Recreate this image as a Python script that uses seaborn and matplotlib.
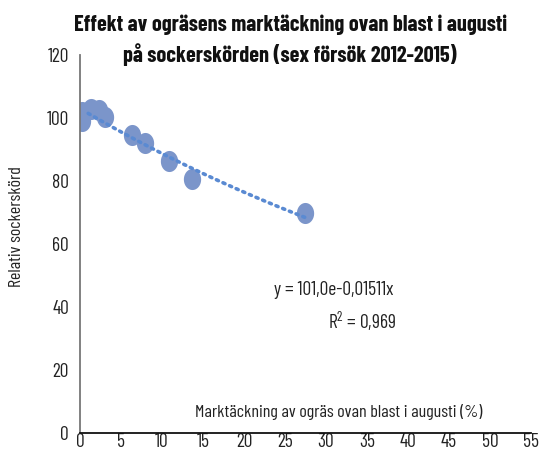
import numpy as np
import pandas as pd
import matplotlib
matplotlib.use("Agg")
import matplotlib.pyplot as plt
from matplotlib.path import Path
import seaborn as sns

# Data
cover = [0.2, 0.2, 1.3, 2.3, 3.0, 6.4, 7.9, 10.9, 13.7, 27.4]
yield_rel = [101.8, 99.0, 103.0, 102.6, 100.3, 94.6, 92.0, 86.4, 80.5, 69.7]
x_ticks = [0, 5, 10, 15, 20, 25, 30, 35, 40, 45, 50, 55]
y_ticks = [0, 20, 40, 60, 80, 100, 120]
eq_text = "y = 101,0e-0,01511x"
r2_text = "R$^2$ = 0,969"
title_1 = "Effekt av ogräsens marktäckning ovan blast i augusti"
title_2 = "på sockerskörden (sex försök 2012-2015)"
xlabel = "Marktäckning av ogräs ovan blast i augusti (%)"
ylabel = "Relativ sockerskörd"

df = pd.DataFrame({"x": cover, "y": yield_rel})

FONT = 'Barlow Condensed'
sns.set_theme(style="white")
plt.rcParams['font.family'] = [FONT, 'DejaVu Sans']
plt.rcParams['mathtext.fontset'] = 'custom'
plt.rcParams['mathtext.rm'] = FONT

fig = plt.figure(figsize=(5.41, 4.53), dpi=100)
ax = fig.add_axes([80/541, 20/453, 451/541, 378/453])

# ellipse marker (slightly taller than wide)
t = np.linspace(0, 2*np.pi, 60)
ell = Path(np.column_stack([0.82*np.cos(t), np.sin(t)]), closed=True)

sns.scatterplot(data=df, x="x", y="y", ax=ax, marker=ell, s=230,
                color="#7B95CA", edgecolor="#7B95CA", linewidth=0, zorder=2)

# exponential trendline fitted on the data
b, loga = np.polyfit(df["x"], np.log(df["y"]), 1)
xx = np.linspace(1.0, df["x"].max(), 100)
trend = pd.DataFrame({"x": xx, "y": np.exp(loga) * np.exp(b * xx)})
sns.lineplot(data=trend, x="x", y="y", ax=ax, color="#5A8AD2",
             linestyle=(0, (0.6, 1.4)), linewidth=2.6, zorder=3,
             dash_capstyle="round")

ax.set_xlim(0, 55)
ax.set_ylim(0, 120)
ax.set_xticks(x_ticks)
ax.set_yticks(y_ticks)
ax.tick_params(axis="both", labelsize=14, length=0, colors="#222222")
ax.tick_params(axis="x", pad=0)
ax.tick_params(axis="y", pad=8)
ax.set_xlabel("")
ax.set_ylabel("")
for s in ["top", "right"]:
    ax.spines[s].set_visible(False)
ax.spines["left"].set_color("#777777")
ax.spines["left"].set_linewidth(1.3)
ax.spines["bottom"].set_color("#111111")
ax.spines["bottom"].set_linewidth(1.3)

fig.text(339/541, 1 - 412/453, xlabel, ha="center", va="center", fontsize=13, color="#222222")
fig.text(17/541, 1 - 227/453, ylabel, ha="center", va="center", rotation=90, fontsize=13, color="#222222")
fig.text(393/541, 1 - 290/453, eq_text, ha="right", va="center", fontsize=14, color="#222222")
fig.text(396/541, 1 - 321/453, r2_text, ha="right", va="center", fontsize=14, color="#222222")
fig.text(291/541, 1 - 25/453, title_1, ha="center", va="center", fontsize=16, fontweight="bold",
         color="#111111")
fig.text(290/541, 1 - 55/453, title_2, ha="center", va="center", fontsize=16, fontweight="bold",
         color="#111111")

fig.savefig("out.png", dpi=100)
